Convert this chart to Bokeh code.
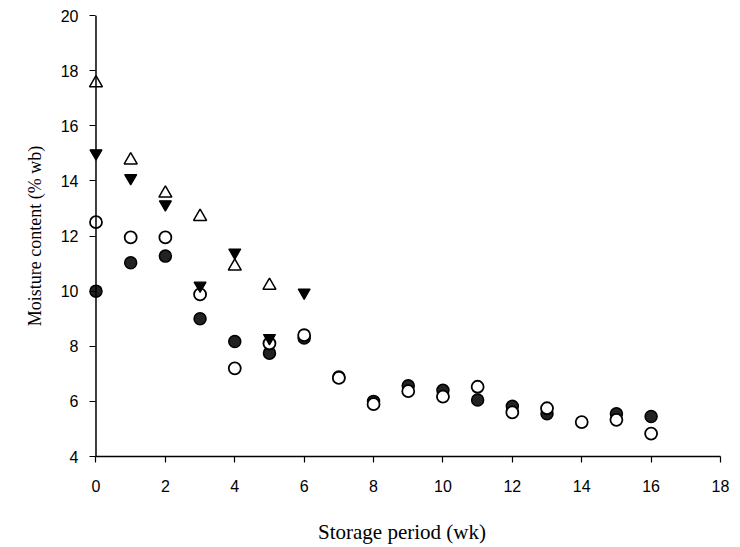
from bokeh.plotting import figure
from bokeh.embed import file_html
from bokeh.resources import INLINE
from bokeh.models import Range1d, FixedTicker, Span

# Storage period (wk) and moisture content (% wb) for four series
weeks_open_tri = [0, 1, 2, 3, 4, 5]
mc_open_tri = [17.55, 14.75, 13.55, 12.7, 10.9, 10.2]

weeks_fill_tri = [0, 1, 2, 3, 4, 5, 6]
mc_fill_tri = [15.0, 14.1, 13.15, 10.2, 11.4, 8.3, 9.95]

weeks_open_circ = [0, 1, 2, 3, 4, 5, 6, 7, 8, 9, 10, 11, 12, 13, 14, 15, 16]
mc_open_circ = [12.5, 11.95, 11.95, 9.88, 7.2, 8.1, 8.4, 6.85, 5.9, 6.37, 6.17, 6.53, 5.6, 5.75, 5.25, 5.33, 4.83]

weeks_fill_circ = [0, 1, 2, 3, 4, 5, 6, 7, 8, 9, 10, 11, 12, 13, 15, 16]
mc_fill_circ = [10.0, 11.03, 11.27, 9.0, 8.17, 7.75, 8.3, 6.88, 6.0, 6.57, 6.4, 6.05, 5.82, 5.55, 5.55, 5.45]

x_ticks = [0, 2, 4, 6, 8, 10, 12, 14, 16, 18]
y_ticks = [4, 6, 8, 10, 12, 14, 16, 18, 20]

p = figure(width=730, height=546, output_backend="svg", toolbar_location=None,
           x_range=Range1d(-0.36, 18), y_range=Range1d(4, 20),
           min_border_left=83, min_border_top=15, min_border_right=10, min_border_bottom=90)
p.outline_line_color = None
p.background_fill_color = "white"
p.grid.visible = False

for ax in (p.xaxis[0], p.yaxis[0]):
    ax.axis_line_color = "black"
    ax.axis_line_width = 1.5
    ax.major_tick_line_color = "black"
    ax.major_tick_line_width = 1.2
    ax.minor_tick_line_color = None
    ax.major_label_text_font = "Liberation Sans"
    ax.major_label_text_font_size = "16px"
    ax.major_label_text_color = "black"
    ax.axis_label_text_font = "Liberation Serif"
    ax.axis_label_text_font_style = "normal"
    ax.axis_label_text_color = "black"

# x axis: line from 0 to 18, ticks pointing down
p.xaxis[0].ticker = FixedTicker(ticks=x_ticks)
p.xaxis[0].bounds = (0, 18)
p.xaxis[0].major_tick_out = 6
p.xaxis[0].major_tick_in = 0
p.xaxis[0].axis_label = "Storage period (wk)"
p.xaxis[0].axis_label_text_font_size = "21px"
p.xaxis[0].major_label_standoff = 17
p.xaxis[0].axis_label_standoff = 25

# y axis: drawn at x = 0, slightly inside the frame so markers at week 0 are not clipped
p.yaxis[0].ticker = FixedTicker(ticks=y_ticks)
p.yaxis[0].axis_line_color = None
p.yaxis[0].major_tick_in = 12
p.yaxis[0].major_tick_out = -6
p.yaxis[0].major_label_standoff = 5
p.yaxis[0].axis_label = "Moisture content (% wb)"
p.yaxis[0].axis_label_text_font_size = "18px"
p.yaxis[0].axis_label_standoff = 13
p.add_layout(Span(location=0, dimension="height", line_color="black", line_width=1.5))

p.scatter(weeks_fill_circ, mc_fill_circ, marker="circle", size=12,
          fill_color="#222222", line_color="black", line_width=1.5)
p.scatter(weeks_open_circ, mc_open_circ, marker="circle", size=12,
          fill_color="white", line_color="black", line_width=1.8)
p.scatter(weeks_fill_tri, mc_fill_tri, marker="inverted_triangle", size=12,
          fill_color="black", line_color="black", line_width=1.2)
p.scatter(weeks_open_tri, mc_open_tri, marker="triangle", size=13,
          fill_color="white", line_color="black", line_width=1.5)

open("out.html", "w").write(file_html(p, INLINE))
